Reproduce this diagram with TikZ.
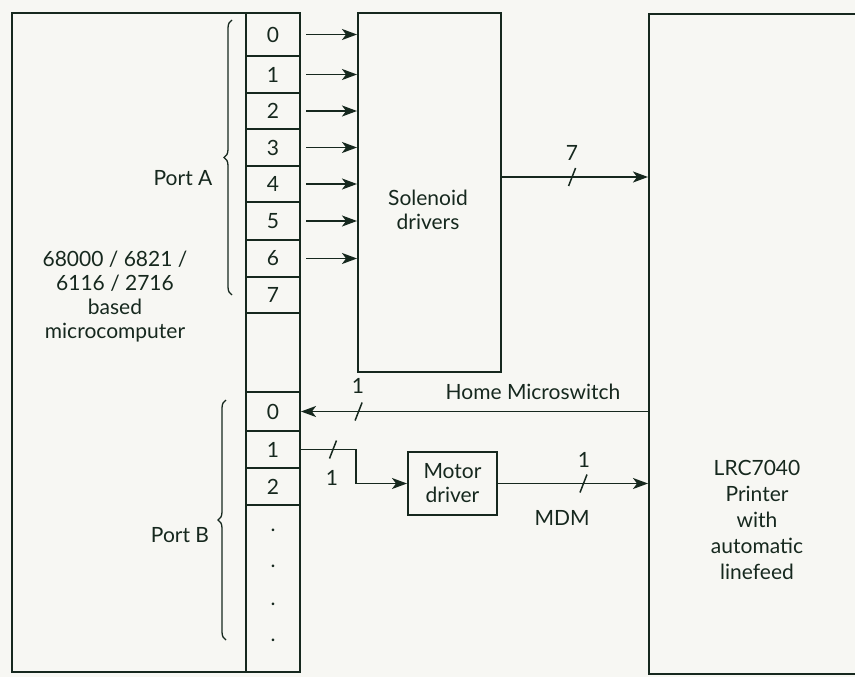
\documentclass[tikz,border=0pt]{standalone}
\usepackage{fontspec}
\setmainfont{Lato}
\usetikzlibrary{arrows.meta,decorations.pathreplacing,calc}
\definecolor{ink}{RGB}{22,40,30}
\definecolor{paper}{RGB}{247,247,243}
\newcommand\dfont{\fontsize{21}{24}\selectfont}
\begin{document}
\begin{tikzpicture}[x=1pt,y=-1pt,color=ink,
  box/.style={draw, line width=2pt, inner sep=0pt, anchor=center},
  cell/.style={draw, line width=2pt, minimum width=54pt, inner sep=0pt, font=\dfont},
  arr/.style={-{Stealth[length=15pt,width=11pt,inset=4pt]}, line width=1.6pt},
  lbl/.style={font=\dfont, inner sep=0pt},
  brc/.style={decorate, decoration={brace, amplitude=8pt}, line width=1.3pt},
  slash/.style={line width=1.5pt}]
\useasboundingbox (0,0) rectangle (855,677);
\fill[paper] (0,0) rectangle (855,677);
\clip (0,0) rectangle (855,677);

% microcomputer
\node[box, minimum width=288pt, minimum height=659pt] (mc) at (156,342.5) {};
\node[box, minimum width=54pt, minimum height=659pt] (col) at (273,342.5) {};
\foreach \n/\t/\b in {0/13/56,1/56/93,2/93/129,3/129/166,4/166/202,5/202/240,6/240/277,7/277/313}
  \node[cell, minimum height={(\b-\t)*1pt}] (a\n) at (273,{(\t+\b)/2}) {\n};
\foreach \n/\t/\b in {0/392/431,1/431/468,2/468/505}
  \node[cell, minimum height={(\b-\t)*1pt}] (b\n) at (273,{(\t+\b)/2}) {\n};
\foreach \i/\y in {1/530,2/566,3/604,4/640}
  \node[lbl] (d\i) at (273,\y) {.};

\node[lbl, align=center] (mctext) at (115,297) {68000 / 6821 /\\6116 / 2716\\based\\microcomputer};
\node[lbl] (pa) at (183,178) {Port A};
\node[lbl] (pb) at (180,535) {Port B};
\draw[brc] (232,295) -- (232,20);
\draw[brc] (226,640) -- (226,400);

% solenoid drivers
\node[box, minimum width=143pt, minimum height=359pt] (sol) at (429.5,192.5) {};
\node[lbl, align=center] (soltext) at (428,210) {Solenoid\\drivers};

% printer
\node[box, minimum width=260pt, minimum height=660pt] (pr) at (779,344) {};
\node[lbl, align=center, font=\fontsize{21}{26}\selectfont] (prtext) at (757,520) {LRC7040\\Printer\\with\\automatic\\linefeed};

% motor driver
\node[box, minimum width=89pt, minimum height=63pt, align=center, font=\dfont] (md) at (452.5,483.5) {Motor\\driver};

% port A arrows
\foreach \n in {0,...,6}
  \draw[arr, shorten <=5pt] (a\n.east) -- (a\n.east -| sol.west);

% 7 lines to printer
\coordinate (y7) at (0,177);
\draw[arr] (sol.east |- y7) -- coordinate[pos=0.48] (s7) (pr.west |- y7);
\draw[slash] ($(s7)+(-3.5,9)$) -- ($(s7)+(3.5,-9)$);
\node[lbl] (l7) at (572,153) {7};

% home microswitch
\draw[arr] (b0.east -| pr.west) -- coordinate[pos=0.834] (s8) (b0.east);
\draw[slash] ($(s8)+(-3.5,9)$) -- ($(s8)+(3.5,-9)$);
\node[lbl] (l8) at (358,386) {1};
\node[lbl] (hm) at (533,392) {Home Microswitch};

% port B1 to motor driver
\draw[arr] (b1.east) -- ++(55,0) |- (md.west);
\coordinate (s9) at ($(b1.east)+(32,0)$);
\draw[slash] ($(s9)+(-3.5,9)$) -- ($(s9)+(3.5,-9)$);
\node[lbl] (l9) at (332,478) {1};

% motor driver to printer
\draw[arr] (md.east) -- coordinate[pos=0.57] (s10) (md.east -| pr.west);
\draw[slash] ($(s10)+(-3.5,9)$) -- ($(s10)+(3.5,-9)$);
\node[lbl] (l10) at (584,460) {1};
\node[lbl] (mdm) at (562,518) {MDM};
\end{tikzpicture}
\end{document}
